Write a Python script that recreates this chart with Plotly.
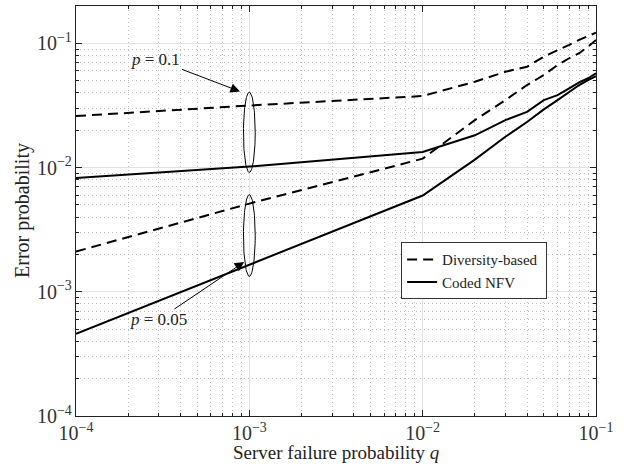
import numpy as np
import plotly.graph_objects as go

q = [1e-4, 1e-3, 1e-2, 2e-2, 3e-2, 4e-2, 5e-2, 6e-2, 7e-2, 8e-2, 9e-2, 1e-1]

div_p01 = [0.0260, 0.0316, 0.0377, 0.0491, 0.0591, 0.0649, 0.0782, 0.0874, 0.0972, 0.1067, 0.1150, 0.1220]
div_p005 = [0.00211, 0.00513, 0.0118, 0.0241, 0.0349, 0.0462, 0.0556, 0.0670, 0.0759, 0.0833, 0.0942, 0.1067]
coded_p01 = [0.00826, 0.0102, 0.01334, 0.0182, 0.0241, 0.0281, 0.0349, 0.0383, 0.0435, 0.0486, 0.0524, 0.0575]
coded_p005 = [0.000458, 0.00166, 0.00596, 0.0116, 0.0177, 0.0233, 0.0294, 0.0349, 0.0407, 0.0462, 0.0507, 0.0546]

x_title = "Server failure probability <i>q</i>"
y_title = "Error probability"

FONT = "Liberation Serif"
DASH = "10px,6px"

fig = go.Figure()
fig.add_trace(go.Scatter(x=q, y=div_p01, mode="lines", name="Diversity-based ",
                         line=dict(color="black", width=2, dash=DASH), showlegend=True))
fig.add_trace(go.Scatter(x=q, y=coded_p01, mode="lines", name="Coded NFV",
                         line=dict(color="black", width=2), showlegend=True))
fig.add_trace(go.Scatter(x=q, y=div_p005, mode="lines", name="Diversity-based",
                         line=dict(color="black", width=2, dash=DASH), showlegend=False))
fig.add_trace(go.Scatter(x=q, y=coded_p005, mode="lines", name="Coded NFV",
                         line=dict(color="black", width=2), showlegend=False))

# ellipses grouping curves at q = 1e-3 (in log space)
t = np.linspace(0, 2 * np.pi, 100)
for yc, ry in [(-1.716, 0.323), (-2.547, 0.329)]:
    ex = 10 ** (-3.0 + 0.034 * np.cos(t))
    ey = 10 ** (yc + ry * np.sin(t))
    fig.add_trace(go.Scatter(x=ex, y=ey, mode="lines", line=dict(color="black", width=1),
                             showlegend=False, hoverinfo="skip"))

fig.add_annotation(x=-3.054, y=-1.387, xref="x", yref="y", ax=-84, ay=-32,
                   text="<i>p</i> = 0.1", showarrow=True, arrowhead=2, arrowsize=1.9,
                   arrowwidth=1, arrowcolor="black",
                   font=dict(family=FONT, size=17, color="#222"))
fig.add_annotation(x=-3.03, y=-2.76, xref="x", yref="y", ax=-86, ay=58,
                   text="<i>p</i> = 0.05", showarrow=True, arrowhead=2, arrowsize=1.9,
                   arrowwidth=1, arrowcolor="black",
                   font=dict(family=FONT, size=17, color="#222"))

# axis titles
fig.add_annotation(x=0.5, y=0, xref="paper", yref="paper", yanchor="middle",
                   yshift=-36, showarrow=False, text=x_title,
                   font=dict(family=FONT, size=19, color="#222"))
fig.add_annotation(x=0, y=0.5, xref="paper", yref="paper", xanchor="center",
                   xshift=-54, showarrow=False, text=y_title, textangle=-90,
                   font=dict(family=FONT, size=20, color="#222"))

axis_common = dict(
    type="log", showline=True, linecolor="#222", linewidth=1, mirror="allticks",
    ticks="inside", ticklen=6, tickcolor="#222", dtick=1,
    exponentformat="power", showgrid=True, gridcolor="#e2e2e2", gridwidth=1,
    zeroline=False, tickfont=dict(family=FONT, size=16, color="#333"),
    minor=dict(ticks="inside", ticklen=3, tickcolor="#222", dtick="D1",
               showgrid=True, gridcolor="#bdbdbd", griddash="1px,3px", gridwidth=1),
)

fig.update_xaxes(range=[-4, -1], **axis_common)
fig.update_yaxes(range=[-4, np.log10(0.2)], **axis_common)

fig.update_layout(
    width=626, height=466,
    margin=dict(l=76, r=30, t=6, b=50),
    plot_bgcolor="white", paper_bgcolor="white",
    font=dict(family=FONT, color="#222"),
    legend=dict(x=0.906, y=0.424, xanchor="right", yanchor="top",
                bgcolor="white", bordercolor="#333", borderwidth=1,
                font=dict(family=FONT, size=15, color="#222"),
                tracegroupgap=0, itemwidth=30),
    showlegend=True,
)

fig.write_html("out.html", config={"displayModeBar": False},
               post_script="document.body.style.margin='0';")
